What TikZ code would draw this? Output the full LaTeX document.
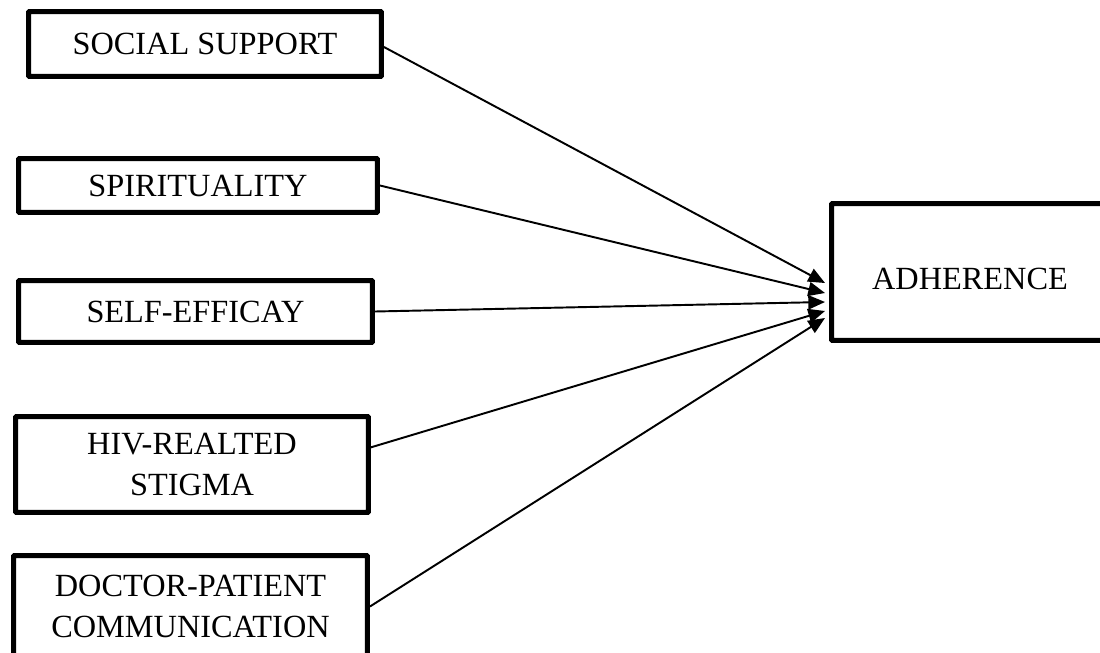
\documentclass[tikz,border=0pt]{standalone}
\usepackage{fontspec}
\setmainfont{Liberation Serif}
\usetikzlibrary{arrows.meta,calc}
\begin{document}
\begin{tikzpicture}[x=0.02cm,y=-0.02cm,
  box/.style={draw=black,line width=0.1cm,rectangle,rounded corners=0.5pt,inner sep=0pt,align=center,
    font=\fontsize{18.4}{23.5}\selectfont},
  link/.style={line width=1.1pt,-{Triangle[length=9.5pt,width=8pt]}}]
\useasboundingbox (0,0) rectangle (1100,653);
\clip (0,0) rectangle (1100,653);
\node[box,minimum width=7.06cm,minimum height=1.3cm] (ss) at (205,44) {SOCIAL SUPPORT};
\node[box,minimum width=7.18cm,minimum height=1.08cm] (sp) at (198,185.5) {SPIRITUALITY};
\node[box,minimum width=7.08cm,minimum height=1.24cm] (se) at (195.5,311.5) {SELF-EFFICAY};
\node[box,minimum width=7.06cm,minimum height=1.92cm] (hiv) at (192,464.5) {HIV-REALTED\\STIGMA};
\node[box,minimum width=7.08cm,minimum height=2.04cm] (dp) at (190.5,606.5) {DOCTOR-PATIENT\\COMMUNICATION};
\node[box,minimum width=5.54cm,minimum height=2.74cm,text height=0.68cm,text depth=0pt] (adh) at (970,272) {ADHERENCE};
\coordinate (t1) at ([xshift=-0.08cm,yshift=-0.22cm]adh.west);
\coordinate (t2) at ([xshift=-0.08cm,yshift=-0.42cm]adh.west);
\coordinate (t3) at ([xshift=-0.08cm,yshift=-0.60cm]adh.west);
\coordinate (t4) at ([xshift=-0.08cm,yshift=-0.78cm]adh.west);
\coordinate (t5) at ([xshift=-0.08cm,yshift=-0.92cm]adh.west);
\draw[link] ([yshift=-0.06cm]ss.east) -- (t1);
\draw[link] (sp.east) -- (t2);
\draw[link] (se.east) -- (t3);
\draw[link] ($(hiv.north east)!0.33!(hiv.south east)$) -- (t4);
\draw[link] (dp.east) -- (t5);
\end{tikzpicture}
\end{document}
